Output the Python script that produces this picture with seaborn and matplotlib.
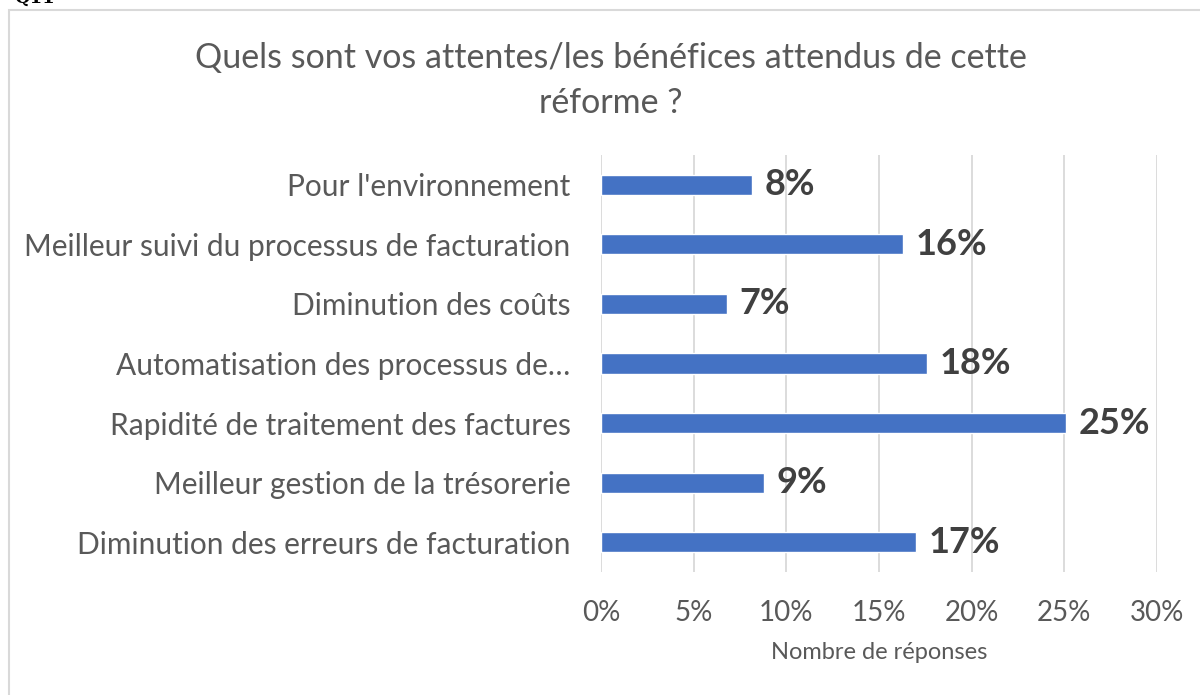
import matplotlib
import matplotlib.pyplot as plt
import pandas as pd
import seaborn as sns
from matplotlib.patches import Rectangle
from matplotlib.ticker import PercentFormatter

categories = [
    "Pour l'environnement",
    "Meilleur suivi du processus de facturation",
    "Diminution des coûts",
    "Automatisation des processus de…",
    "Rapidité de traitement des factures",
    "Meilleur gestion de la trésorerie",
    "Diminution des erreurs de facturation",
]
shares = [8.15, 16.3, 6.8, 17.6, 25.1, 8.8, 17.0]
share_labels = ["8%", "16%", "7%", "18%", "25%", "9%", "17%"]
x_ticks = [0, 5, 10, 15, 20, 25, 30]

TEXT = '#595959'
BAR = '#4472C4'

sns.set_theme(style='white')
plt.rcParams['font.family'] = ['Lato', 'DejaVu Sans']

df = pd.DataFrame({'cat': categories, 'share': shares})

fig = plt.figure(figsize=(12, 6.95), dpi=100)
ax = fig.add_axes([0.5008, 0.177, 0.4634, 0.600])

sns.barplot(data=df, x='share', y='cat', color=BAR, width=0.34, ax=ax, saturation=1)

ax.set_xlim(0, 30)
ax.set_xticks(x_ticks)
ax.xaxis.set_major_formatter(PercentFormatter(decimals=0))
ax.grid(axis='x', color='#d9d9d9', linewidth=1.3)
ax.set_axisbelow(True)
for s in ax.spines.values():
    s.set_visible(False)

ax.tick_params(axis='y', length=0, pad=22, labelsize=21.5, labelcolor=TEXT)
ax.tick_params(axis='x', length=0, pad=20, labelsize=20, labelcolor=TEXT)
ax.set_ylabel('')
ax.set_xlabel('Nombre de réponses', fontsize=17, color=TEXT, labelpad=12)

ax.bar_label(ax.containers[0], labels=share_labels, padding=9,
             fontsize=26, fontweight='bold', color='#404040')

fig.suptitle('Quels sont vos attentes/les bénéfices attendus de cette\nréforme ?',
             x=0.509, y=0.94, fontsize=24.5, color=TEXT, linespacing=1.5)

fig.patches.append(Rectangle((9 / 1200, -0.1), 1.1, 1 - 10 / 695 + 0.1,
                             transform=fig.transFigure, fill=False,
                             edgecolor='#d9d9d9', linewidth=1.5))
fig.text(0.012, 1 - 3 / 695, 'Q11', fontsize=13, fontweight='bold',
         family='DejaVu Serif', va='baseline', color='black')

fig.savefig('out.png', dpi=100)
